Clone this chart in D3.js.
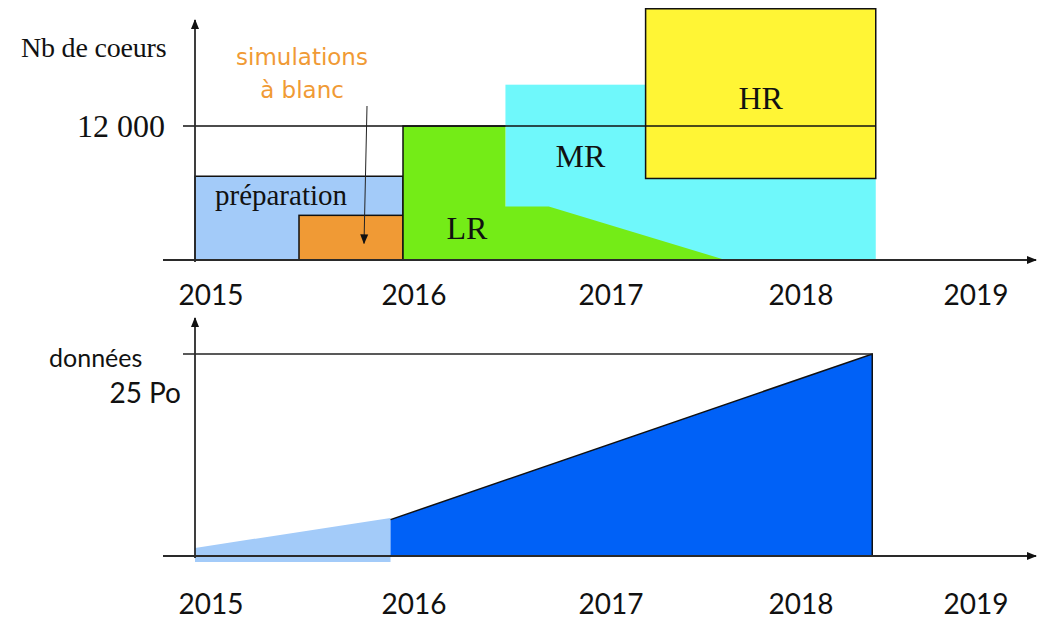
<!DOCTYPE html>
<html>
<head>
<meta charset="utf-8">
<script src="https://cdn.jsdelivr.net/npm/d3@7"></script>
<style>
  body { margin: 0; background: #fff; }
  svg { display: block; }
</style>
</head>
<body>
<script>
// ---- data ----
const years = [2015, 2016, 2017, 2018, 2019];

// rectangles in the "Nb de coeurs" panel
const phaseNames = ["préparation", "simulations à blanc", "MR", "HR"];
const phaseStart = [2015.0, 2015.5, 2016.52, 2017.24];
const phaseEnd   = [2016.0, 2016.0, 2018.49, 2018.49];
const phaseLow   = [0, 0, 0, 7300];
const phaseHigh  = [7500, 4000, 15700, 22500];

// LR profile (green), cores over time
const lrTime  = [2016.0, 2016.52, 2016.52, 2016.74, 2017.66];
const lrCores = [12000, 12000, 4800, 4800, 0];

const coreTicks = [12000];
const coreTickLabels = ["12 000"];

// "données" panel, Po over time
const prepTime = [2015.0, 2015.94];
const prepData = [1.0, 4.7];
const prodTime = [2015.94, 2018.47];
const prodData = [4.5, 25];

const dataTicks = [25];
const dataTickLabels = ["25 Po"];

// ---- drawing ----
width = 1050;
height = 621;
serif = "'Liberation Serif', 'Times New Roman', serif";
sans = "'DejaVu Sans', sans-serif";
calib = "Lato, 'Open Sans', sans-serif";
axisColor = "#2a2a2a";

colors = {
  "préparation": "#a3cbf9",
  "simulations à blanc": "#f09a35",
  "LR": "#74ec17",
  "MR": "#6ff8fb",
  "HR": "#fff535",
  "prep": "#a3cbf9",
  "prod": "#0061f7"
};

createSVG();
createMarkers();
x = d3.scaleLinear().domain(years).range([195, 403, 600, 790, 965]);
createTop();
createBottom();

function createSVG(){
  svg = d3.select('body').append('svg')
    .attr('width', width)
    .attr('height', height);
}

function createMarkers(){
  const defs = svg.append('defs');
  defs.append('marker')
    .attr('id', 'arrow')
    .attr('viewBox', '0 0 10 10')
    .attr('refX', 9).attr('refY', 5)
    .attr('markerWidth', 10).attr('markerHeight', 10)
    .attr('markerUnits', 'userSpaceOnUse')
    .attr('orient', 'auto')
    .append('path')
    .attr('d', 'M0,1 L10,5 L0,9 Z')
    .attr('fill', '#111');
}

function yearLabels(g, ypos){
  g.selectAll('.year')
    .data(years)
    .join('text')
    .attr('class', 'year')
    .attr('x', (d, i) => x(d) + (i == 0 ? 16 : 11))
    .attr('y', ypos)
    .attr('text-anchor', 'middle')
    .style('font-family', calib)
    .style('font-size', '28px')
    .style('fill', '#111')
    .text(d => d);
}

function createTop(){
  y = d3.scaleLinear().domain([0, 12000]).range([260, 126]);
  const g = svg.append('g');

  const phases = phaseNames.map((n, i) => ({
    name: n, start: phaseStart[i], end: phaseEnd[i], low: phaseLow[i], high: phaseHigh[i]
  }));
  const byName = new Map(phases.map(d => [d.name, d]));

  function rect(p, stroke){
    g.append('rect')
      .attr('x', x(p.start))
      .attr('y', y(p.high))
      .attr('width', x(p.end) - x(p.start))
      .attr('height', y(p.low) - y(p.high))
      .style('fill', colors[p.name])
      .style('stroke', stroke ? '#111' : 'none')
      .style('stroke-width', 1.5);
  }

  rect(byName.get("préparation"), true);
  rect(byName.get("simulations à blanc"), true);
  rect(byName.get("MR"), false);

  // LR area drawn over the bottom-left of MR
  const lr = lrTime.map((t, i) => ({t: t, v: lrCores[i]}));
  const area = d3.area().x(d => x(d.t)).y0(y(0)).y1(d => y(d.v));
  g.append('path')
    .attr('d', area(lr))
    .style('fill', colors["LR"]);
  g.append('path')
    .attr('d', d3.line().x(d => x(d.t)).y(d => y(d.v))([{t: lrTime[0], v: 0}, lr[0], lr[1]]))
    .style('fill', 'none')
    .style('stroke', '#111')
    .style('stroke-width', 1.5);

  rect(byName.get("HR"), true);

  // 12 000 reference line
  g.selectAll('.ref')
    .data(coreTicks)
    .join('line')
    .attr('x1', x(2015) - 12).attr('x2', x(byName.get("HR").end))
    .attr('y1', d => y(d)).attr('y2', d => y(d))
    .style('stroke', '#111')
    .style('stroke-width', 1.5);
  g.selectAll('.reflabel')
    .data(coreTicks)
    .join('text')
    .attr('x', 165)
    .attr('y', d => y(d) + 11)
    .attr('text-anchor', 'end')
    .style('font-family', serif)
    .style('font-size', '32px')
    .style('fill', '#111')
    .text((d, i) => coreTickLabels[i]);

  // axes
  g.append('line')
    .attr('x1', x(2015)).attr('x2', x(2015))
    .attr('y1', y(0) + 2).attr('y2', 20)
    .attr('marker-end', 'url(#arrow)')
    .style('stroke', axisColor).style('stroke-width', 1.8);
  g.append('line')
    .attr('x1', 163).attr('x2', 1036)
    .attr('y1', y(0)).attr('y2', y(0))
    .attr('marker-end', 'url(#arrow)')
    .style('stroke', axisColor).style('stroke-width', 1.8);

  g.append('text')
    .attr('x', 21).attr('y', 57)
    .style('font-family', serif)
    .style('font-size', '28px')
    .style('letter-spacing', '-0.2px')
    .style('fill', '#111')
    .text('Nb de coeurs');

  // labels inside the boxes
  const prep = byName.get("préparation");
  g.append('text')
    .attr('x', (x(prep.start) + x(prep.end)) / 2 - 18)
    .attr('y', y(prep.high) + 29)
    .attr('text-anchor', 'middle')
    .style('font-family', serif).style('font-size', '29px').style('fill', '#111')
    .text('préparation');

  g.append('text')
    .attr('x', x(2016) + 64).attr('y', y(0) - 21)
    .attr('text-anchor', 'middle')
    .style('font-family', serif).style('font-size', '32px').style('fill', '#111')
    .text('LR');
  g.append('text')
    .attr('x', x(byName.get("MR").start) + 75).attr('y', 167)
    .attr('text-anchor', 'middle')
    .style('font-family', serif).style('font-size', '32px').style('fill', '#111')
    .text('MR');
  const hr = byName.get("HR");
  g.append('text')
    .attr('x', (x(hr.start) + x(hr.end)) / 2).attr('y', 109)
    .attr('text-anchor', 'middle')
    .style('font-family', serif).style('font-size', '32px').style('fill', '#111')
    .text('HR');

  // "simulations à blanc" callout
  const sim = byName.get("simulations à blanc");
  const simLabel = g.append('text')
    .attr('text-anchor', 'middle')
    .style('font-family', sans).style('font-size', '23px').style('fill', colors["simulations à blanc"]);
  simLabel.append('tspan').attr('x', 302).attr('y', 65).text('simulations');
  simLabel.append('tspan').attr('x', 302).attr('y', 98).text('à blanc');
  g.append('line')
    .attr('x1', 367).attr('y1', 106)
    .attr('x2', 364).attr('y2', y(sim.high) + 28)
    .attr('marker-end', 'url(#arrow)')
    .style('stroke', '#222').style('stroke-width', 1);

  yearLabels(g, 305);
}

function createBottom(){
  yb = d3.scaleLinear().domain([0, 25]).range([556, 354]);
  const g = svg.append('g');

  const prep = prepTime.map((t, i) => ({t: t, v: prepData[i]}));
  const prod = prodTime.map((t, i) => ({t: t, v: prodData[i]}));

  g.append('path')
    .attr('d', d3.area().x(d => x(d.t)).y0(yb(0) + 6).y1(d => yb(d.v))(prep))
    .style('fill', colors["prep"]);

  g.append('path')
    .attr('d', d3.area().x(d => x(d.t)).y0(yb(0)).y1(d => yb(d.v))(prod))
    .style('fill', colors["prod"]);
  const last = prod[prod.length - 1];
  g.append('path')
    .attr('d', d3.line().x(d => x(d.t)).y(d => yb(d.v))(prod.concat([{t: last.t, v: 0}])))
    .style('fill', 'none')
    .style('stroke', '#111')
    .style('stroke-width', 1.5);

  // 25 Po reference line
  g.selectAll('.ref')
    .data(dataTicks)
    .join('line')
    .attr('x1', x(2015) - 12).attr('x2', x(last.t))
    .attr('y1', d => yb(d)).attr('y2', d => yb(d))
    .style('stroke', '#222')
    .style('stroke-width', 1.4);
  g.selectAll('.reflabel')
    .data(dataTicks)
    .join('text')
    .attr('x', 181)
    .attr('y', d => yb(d) + 49)
    .attr('text-anchor', 'end')
    .style('font-family', calib)
    .style('font-size', '28px')
    .style('fill', '#111')
    .text((d, i) => dataTickLabels[i]);

  g.append('text')
    .attr('x', 49).attr('y', 367)
    .style('font-family', calib)
    .style('font-size', '25px')
    .style('fill', '#111')
    .text('données');

  // axes
  g.append('line')
    .attr('x1', x(2015)).attr('x2', x(2015))
    .attr('y1', yb(0) + 2).attr('y2', 318)
    .attr('marker-end', 'url(#arrow)')
    .style('stroke', axisColor).style('stroke-width', 1.8);
  g.append('line')
    .attr('x1', 163).attr('x2', 1036)
    .attr('y1', yb(0)).attr('y2', yb(0))
    .attr('marker-end', 'url(#arrow)')
    .style('stroke', axisColor).style('stroke-width', 1.8);

  yearLabels(g, 614);
}
</script>
</body>
</html>
